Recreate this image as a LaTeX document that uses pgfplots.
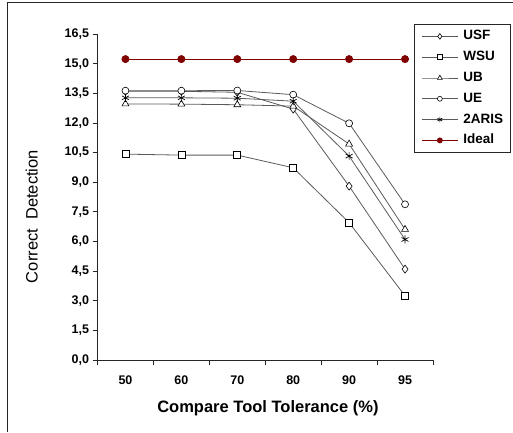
\documentclass[border=0pt]{standalone}
\usepackage{pgfplots}
\pgfplotsset{compat=1.18}
\usepackage{fontspec}
\setmainfont{Liberation Sans}
\definecolor{ideal}{RGB}{128,0,0}
\definecolor{serline}{RGB}{90,90,90}
\begin{document}
\begin{tikzpicture}
\path[use as bounding box] (0pt,0pt) rectangle (513pt,432pt);
% outer chart frame (left and top only)
\draw[black!85, line width=0.8pt] (7pt,0pt) -- (7pt,430pt) -- (513pt,430pt);
\begin{axis}[
    at={(97.5pt,72pt)}, anchor=south west,
    scale only axis, width=335.5pt, height=326pt,
    xmin=0, xmax=6, ymin=0, ymax=16.5,
    axis lines*=left,
    axis line style={black!85, line width=0.9pt},
    tick align=outside, major tick length=5pt,
    tick style={black!85, line width=0.8pt},
    xtick={0,...,6}, xticklabels={},
    extra x ticks={0.5,1.5,2.5,3.5,4.5,5.5},
    extra x tick labels={50,60,70,80,90,95},
    extra x tick style={tick style={draw=none}},
    xticklabel style={yshift=-7pt},
    ytick={0,1.5,3,4.5,6,7.5,9,10.5,12,13.5,15,16.5},
    /pgf/number format/assume math mode=true,
    yticklabel style={/pgf/number format/.cd, fixed, fixed zerofill, precision=1, use comma},
    tick label style={font=\fontsize{12.5}{14}\selectfont\bfseries},
    xlabel={Compare Tool Tolerance (\%)},
    xlabel style={font=\fontsize{16.5}{18}\selectfont\bfseries, at={(axis description cs:0.508,-0.147)}, anchor=center},
    ylabel={Correct\ \ Detection},
    ylabel style={font=\fontsize{16.5}{18}\selectfont, at={(axis description cs:-0.196,0.44)}, anchor=center},
    legend image code/.code={\draw[mark repeat=2,mark phase=2,#1,every mark/.append style={scale=0.7}] plot coordinates {(0pt,0pt) (18pt,0pt) (36pt,0pt)};},
    legend style={draw=black!85, line width=0.8pt, fill=white,
        at={(0.9434,1.0307)}, anchor=north west,
        inner xsep=7pt, inner ysep=5.5pt, row sep=7.8pt,
        nodes={inner sep=0pt, text height=10pt, text depth=3pt, font=\fontsize{13.5}{15}\selectfont\bfseries},
        /tikz/every odd column/.append style={column sep=5pt}},
    legend cell align=left,
    clip=false,
]

\addplot[serline, line width=0.8pt, mark=diamond*, mark size=4pt,
    mark options={draw=black, fill=white, line width=0.6pt}]
    coordinates {(0.5,13.60)(1.5,13.60)(2.5,13.55)(3.5,12.70)(4.5,8.80)(5.5,4.60)};

\addplot[serline, line width=0.8pt, mark=square*, mark size=3.5pt,
    mark options={draw=black, fill=white, line width=0.6pt}]
    coordinates {(0.5,10.42)(1.5,10.37)(2.5,10.37)(3.5,9.73)(4.5,6.95)(5.5,3.25)};

\addplot[serline, line width=0.8pt, mark=triangle*, mark size=4pt,
    mark options={draw=black, fill=white, line width=0.6pt}]
    coordinates {(0.5,12.96)(1.5,12.95)(2.5,12.92)(3.5,12.85)(4.5,10.93)(5.5,6.61)};

\addplot[serline, line width=0.8pt, mark=*, mark size=3.5pt,
    mark options={draw=black, fill=white, line width=0.6pt}]
    coordinates {(0.5,13.63)(1.5,13.63)(2.5,13.64)(3.5,13.43)(4.5,11.98)(5.5,7.88)};

\addplot[serline, line width=0.8pt, mark=asterisk, mark size=4pt,
    mark options={draw=black, line width=0.7pt}]
    coordinates {(0.5,13.27)(1.5,13.27)(2.5,13.25)(3.5,13.10)(4.5,10.32)(5.5,6.10)};

\addplot[ideal, line width=0.9pt, mark=*, mark size=3.5pt,
    mark options={draw=ideal, fill=ideal}]
    coordinates {(0.5,15.23)(1.5,15.23)(2.5,15.23)(3.5,15.23)(4.5,15.23)(5.5,15.23)};

\legend{USF,WSU,UB,UE,2ARIS,Ideal}
\end{axis}
\end{tikzpicture}
\end{document}
